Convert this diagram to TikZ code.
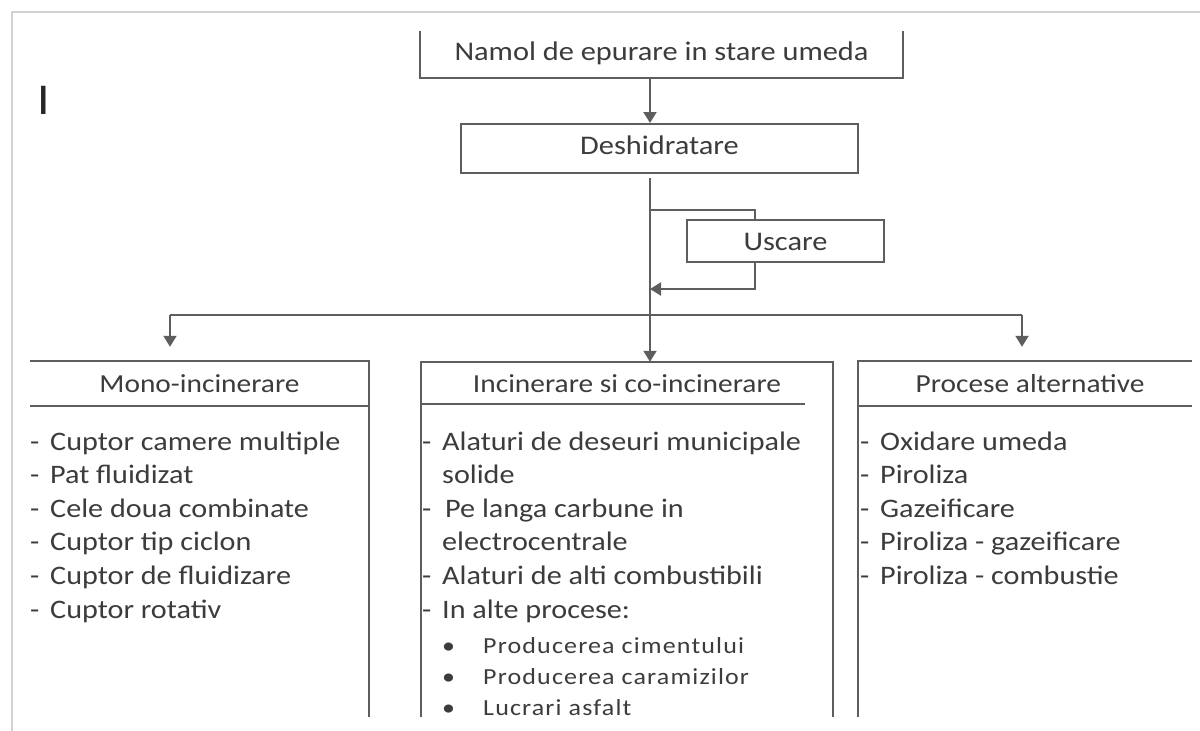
\documentclass[tikz,border=0pt]{standalone}
\usepackage{fontspec}
\setmainfont{Carlito}[FakeStretch=1.13]
\newfontfamily\spacedfont{Carlito}[FakeStretch=1.13,LetterSpace=5]
\usetikzlibrary{arrows.meta,positioning,calc}
\definecolor{edge}{HTML}{5E5E5E}
\definecolor{ink}{HTML}{3C3C3C}
\definecolor{page}{HTML}{D2D2D2}
\newcommand{\bigtxt}{\fontsize{26.9}{30}\selectfont}
\newcommand{\headtxt}{\fontsize{26}{30}\selectfont}
\newcommand{\itemtxt}{\fontsize{26.7}{30}\selectfont}
\newcommand{\subtxt}{\fontsize{23}{27}\selectfont}
\newcommand{\itemdash}{\llap{\makebox[20pt][l]{-}}}
\tikzset{
  plainbox/.style={inner sep=0pt,text=ink,font=\bigtxt,text height=14pt,text depth=3pt},
  framed/.style={plainbox,draw=edge,line width=2pt},
  head/.style={inner sep=0pt,text=ink,font=\headtxt,text height=18pt,text depth=0pt},
  item/.style={anchor=base west,inner sep=0pt,text=ink,font=\itemtxt},
  wire/.style={draw=edge,line width=2pt},
  arr/.style={wire,-{Triangle[length=11pt,width=13pt]}},
}
\begin{document}
\begin{tikzpicture}[x=1pt,y=-1pt]
  \useasboundingbox (0,0) rectangle (1200,731);
  \fill[white] (0,0) rectangle (1200,731);
  % page edge
  \draw[page,line width=2.5pt] (12,731) |- (1200,12);
  \node[anchor=base,inner sep=0pt,text=black!85,font=\fontsize{44}{44}\selectfont] (mark) at (44,114) {I};

  % top of the chain
  \node[plainbox,minimum width=483pt,minimum height=47pt] (top) at (661.5,54.5) {Namol de epurare in stare umeda};
  \draw[wire] (top.north west) -- (top.south west) -- (top.south east) -- (top.north east);
  \node[framed,minimum width=397pt,minimum height=49pt] (dehyd) at (659.5,148.5) {Deshidratare};
  \node[framed,minimum width=197pt,minimum height=42pt,text height=18pt,text depth=0pt] (uscare) at (785.5,241) {Uscare};

  % the three columns
  \coordinate (bot) at (0,717);
  \node[head,minimum width=339pt,minimum height=45pt] (mono) at (199.5,383.5) {Mono-incinerare};
  \draw[wire] (mono.north west) -- (mono.north east) -- (mono.north east |- bot);
  \draw[wire] (mono.south west) -- (mono.south east);
  \node[head,minimum width=412pt,minimum height=42pt] (mid) at (627,383) {Incinerare si co-incinerare};
  \draw[wire] (mid.north west |- bot) -- (mid.north west) -- (mid.north east) -- (mid.north east |- bot);
  \draw[wire] (mid.south west) -- ($(mid.south east)+(-28,0)$);
  \node[head,minimum width=334pt,minimum height=45pt,xshift=5pt] (alt) at (1025,383.5) {Procese alternative};
  \draw[wire] ([xshift=-5pt]alt.north east) -- ([xshift=-5pt]alt.north west) -- ([xshift=-5pt]alt.north west |- bot);
  \draw[wire] ([xshift=-5pt]alt.south west) -- ([xshift=-5pt]alt.south east);

  % connectors
  \coordinate (t0) at (650,178);
  \coordinate (ub) at (755,210);
  \coordinate (ret) at (650,289);
  \coordinate (bl) at (170,315);
  \coordinate (br) at (1022,315);
  \draw[arr] (top.south -| t0) -- (dehyd.north -| t0);
  \draw[arr] (t0) -- (t0 |- mid.north);
  \draw[wire] (t0 |- ub) -- (ub) -- (ub |- uscare.north);
  \draw[arr] (ub |- uscare.south) |- (ret);
  \draw[wire] (bl) -- (br);
  \draw[arr,shorten >=14pt] (bl) -- (bl |- mono.north);
  \draw[arr,shorten >=14pt] (br) -- (br |- alt.north);

  % lists
  \foreach \txt [count=\i from 0] in {Cuptor camere multiple,Pat fluidizat,Cele doua combinate,Cuptor tip ciclon,Cuptor de fluidizare,Cuptor rotativ}
    \node[item] (mono\i) at (50,{450+33.6*\i}) {\itemdash\txt};
  \foreach \txt [count=\i from 0] in {\itemdash Alaturi de deseuri municipale,solide,\itemdash\hspace{3pt}Pe langa carbune in,electrocentrale,\itemdash Alaturi de alti combustibili,\itemdash In alte procese:}
    \node[item] (mid\i) at (442,{450+33.6*\i}) {\txt};
  \foreach \txt [count=\i from 0] in {Producerea cimentului,Producerea caramizilor,Lucrari asfalt}
    \node[item,font=\subtxt\spacedfont] (sub\i) at (442,{653+31*\i}) {\makebox[41pt][l]{\textbullet}\txt};
  \foreach \txt [count=\i from 0] in {Oxidare umeda,Piroliza,Gazeificare,Piroliza - gazeificare,Piroliza - combustie}
    \node[item] (alt\i) at (880,{450+33.6*\i}) {\itemdash\txt};
\end{tikzpicture}
\end{document}
